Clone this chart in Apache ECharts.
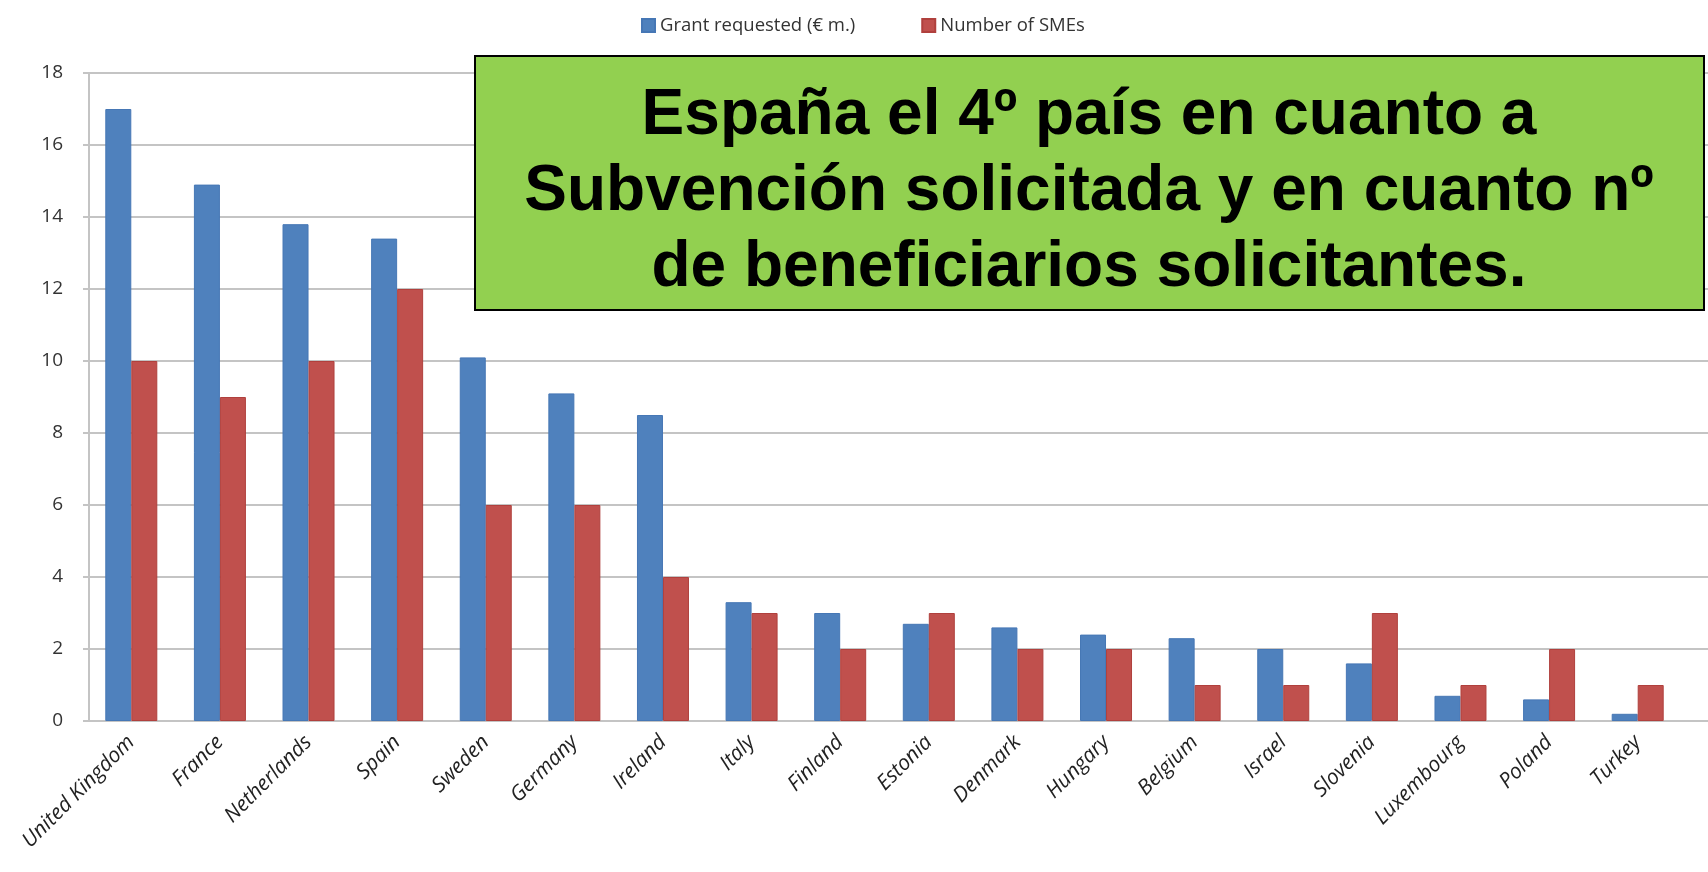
<!DOCTYPE html>
<html>
<head>
<meta charset="utf-8">
<script src="https://cdn.jsdelivr.net/npm/echarts@6/dist/echarts.min.js"></script>
<style>
  html, body { margin: 0; padding: 0; background: #fff; }
  #chart { width: 1708px; height: 872px; }
</style>
</head>
<body>
<div id="chart"></div>
<script>
// datos
const countries = ['United Kingdom', 'France', 'Netherlands', 'Spain', 'Sweden', 'Germany', 'Ireland', 'Italy', 'Finland',
  'Estonia', 'Denmark', 'Hungary', 'Belgium', 'Israel', 'Slovenia', 'Luxembourg', 'Poland', 'Turkey']
const grantRequested = [17, 14.9, 13.8, 13.4, 10.1, 9.1, 8.5, 3.3, 3.0, 2.7, 2.6, 2.4, 2.3, 2.0, 1.6, 0.7, 0.6, 0.2]
const numberOfSMEs = [10, 9, 10, 12, 6, 6, 4, 3, 2, 3, 2, 2, 1, 1, 3, 1, 2, 1]
const seriesNames = ['Grant requested (€ m.)', 'Number of SMEs']
const boxLines = ['España el 4º país en cuanto a', 'Subvención solicitada y en cuanto nº', 'de beneficiarios solicitantes.']

const chart = echarts.init(document.getElementById('chart'))

const option = {
  animation: false,
  legend: {
    data: seriesNames,
    top: 11,
    left: 636,
    itemWidth: 13,
    itemHeight: 13,
    itemGap: 66,
    icon: 'rect',
    textStyle: { fontFamily: 'Open Sans', fontSize: 18.5, color: '#333' }
  },
  grid: [
    { left: 87, top: 73, width: 1595, bottom: 151 },
    // solo para las líneas de división hasta el borde
    { left: 89, top: 73, right: 0, bottom: 151 }
  ],
  xAxis: [
    {
      type: 'category',
      gridIndex: 0,
      data: countries,
      axisLine: { show: false },
      axisTick: { show: false },
      axisLabel: {
        rotate: 45,
        margin: 18,
        interval: 0,
        fontFamily: 'Open Sans',
        fontStyle: 'italic',
        fontSize: 21,
        color: '#222'
      }
    },
    {
      type: 'value',
      gridIndex: 1,
      min: 0,
      max: 1,
      axisLabel: { show: false },
      axisTick: { show: false },
      splitLine: { show: false },
      axisLine: { show: true, lineStyle: { color: '#c4c4c4', width: 2 } }
    }
  ],
  yAxis: [
    {
      type: 'value',
      gridIndex: 0,
      min: 0,
      max: 18,
      interval: 2,
      axisLine: { show: false },
      axisTick: { show: false },
      splitLine: { show: false },
      axisLabel: { margin: 24, fontFamily: 'Open Sans', fontSize: 19, color: '#333' }
    },
    {
      type: 'value',
      gridIndex: 1,
      min: 0,
      max: 18,
      interval: 2,
      axisLine: { show: true, lineStyle: { color: '#c4c4c4', width: 2 } },
      axisTick: { show: true, length: 6, lineStyle: { color: '#c4c4c4', width: 2 } },
      axisLabel: { show: false },
      splitLine: { show: true, lineStyle: { color: '#c4c4c4', width: 2 } }
    }
  ],
  series: [
    {
      name: seriesNames[0],
      type: 'bar',
      xAxisIndex: 0,
      yAxisIndex: 0,
      data: grantRequested,
      barWidth: 26,
      barGap: '0%',
      z: 3,
      itemStyle: { color: '#4f81bd', borderColor: '#4677b5', borderWidth: 1 }
    },
    {
      name: seriesNames[1],
      type: 'bar',
      xAxisIndex: 0,
      yAxisIndex: 0,
      data: numberOfSMEs,
      barWidth: 26,
      barGap: '0%',
      z: 3,
      itemStyle: { color: '#c0504d', borderColor: '#b0403d', borderWidth: 1 }
    }
  ],
  graphic: [
    {
      type: 'group',
      left: 474,
      top: 55,
      zlevel: 1,
      children: [
        {
          type: 'rect',
          z: 100,
          shape: { x: 0, y: 0, width: 1229, height: 254 },
          style: { fill: '#92d050', stroke: '#000', lineWidth: 2 }
        },
        {
          type: 'text',
          z: 101,
          x: 614,
          y: 136,
          style: {
            text: boxLines.join('\n'),
            fill: '#000',
            font: 'bold 64px "Liberation Sans", Arial, sans-serif',
            lineHeight: 76,
            align: 'center',
            verticalAlign: 'middle'
          }
        }
      ]
    }
  ]
}

chart.setOption(option)
</script>
</body>
</html>
